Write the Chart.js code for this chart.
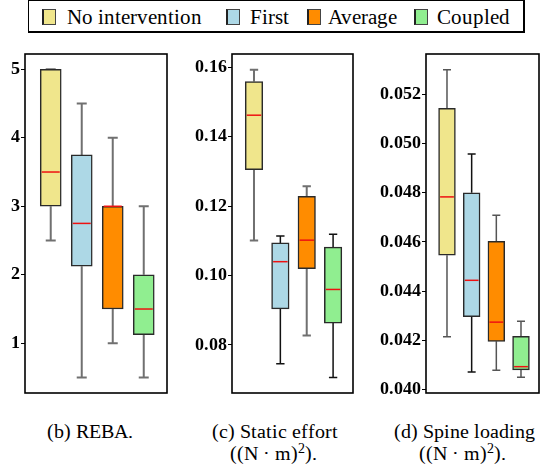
<!DOCTYPE html>
<html><head><meta charset="utf-8">
<script src="https://cdn.jsdelivr.net/npm/chart.js@4.4.0/dist/chart.umd.min.js"></script>
<style>
@font-face{font-family:"SerifX";font-weight:400;src:local("Liberation Serif"),local("LiberationSerif"),local("Times New Roman"),local("DejaVu Serif"),local("DejaVuSerif"),local("Noto Serif"),local("NotoSerif-Regular");}
@font-face{font-family:"SerifX";font-weight:700;src:local("Liberation Serif Bold"),local("LiberationSerif-Bold"),local("Times New Roman Bold"),local("DejaVu Serif Bold"),local("DejaVuSerif-Bold"),local("Noto Serif Bold"),local("NotoSerif-Bold");}
body{margin:0;width:545px;height:472px;background:#fff;position:relative;overflow:hidden;font-family:"SerifX","Liberation Serif","Times New Roman","DejaVu Serif",serif;color:#000;}
.cv{position:absolute;}
#legend{position:absolute;left:28px;top:0px;width:497px;height:33px;border:1.5px solid #000;border-right-width:2px;border-bottom-width:2px;box-sizing:border-box;}
.sw{position:absolute;top:9px;width:14px;height:16px;box-sizing:border-box;border:1px solid #444;border-left:2px solid #222;}
.lt{position:absolute;top:5px;font-size:21px;line-height:24px;white-space:nowrap;}
.cap{position:absolute;font-size:20px;line-height:22px;white-space:nowrap;text-align:center;width:200px;}
sup{font-size:14px;line-height:0;vertical-align:7px;}
</style></head>
<body>
<div id="legend"></div>
<canvas id="c1" class="cv"></canvas>
<canvas id="c2" class="cv"></canvas>
<canvas id="c3" class="cv"></canvas>
<div class="cap" style="left:-10px;top:420px;">(b) REBA.</div>
<div class="cap" style="left:175px;top:420px;">(c) Static effort</div>
<div class="cap" style="left:173px;top:442px;">((N · m)<sup>2</sup>).</div>
<div class="cap" style="left:364px;top:420px;">(d) Spine loading</div>
<div class="cap" style="left:362px;top:442px;">((N · m)<sup>2</sup>).</div>
<script>
// ---- data ----
const categories = ["No intervention", "First", "Average", "Coupled"];

const rebaLow    = [2.5, 0.5, 1.0, 0.5];
const rebaQ1     = [3.0, 2.125, 1.5, 1.125];
const rebaMedian = [3.5, 2.75, 3.0, 1.5];
const rebaQ3     = [5.0, 3.75, 3.0, 2.0];
const rebaHigh   = [5.0, 4.5, 4.0, 3.0];
const rebaTicks  = [1, 2, 3, 4, 5];
const rebaTickLabels = ["1", "2", "3", "4", "5"];

const staticLow    = [0.1101, 0.0746, 0.0827, 0.0706];
const staticQ1     = [0.1305, 0.0904, 0.1020, 0.0863];
const staticMedian = [0.1462, 0.1040, 0.1102, 0.0960];
const staticQ3     = [0.1559, 0.1094, 0.1228, 0.1082];
const staticHigh   = [0.1593, 0.1114, 0.1257, 0.1119];
const staticTicks  = [0.08, 0.10, 0.12, 0.14, 0.16];
const staticTickLabels = ["0.08", "0.10", "0.12", "0.14", "0.16"];

const spineLow    = [0.04215, 0.04071, 0.04078, 0.04050];
const spineQ1     = [0.04546, 0.04296, 0.04196, 0.04080];
const spineMedian = [0.04783, 0.04444, 0.04274, 0.04093];
const spineQ3     = [0.05143, 0.04800, 0.04602, 0.04216];
const spineHigh   = [0.05300, 0.04957, 0.04708, 0.04278];
const spineTicks  = [0.040, 0.042, 0.044, 0.046, 0.048, 0.050, 0.052];
const spineTickLabels = ["0.040", "0.042", "0.044", "0.046", "0.048", "0.050", "0.052"];

// ---- styles ----
const boxColors = ["#F0E68C", "#ADD8E6", "#FF8C00", "#90EE90"];
const legendPos = [[42, 67], [226, 250], [307, 328], [414, 437]];
const serifStack = '"SerifX", "Liberation Serif", "Times New Roman", "DejaVu Serif", serif';

// legend (HTML)
const body = document.body;
categories.forEach((c, i) => {
  const s = document.createElement('div');
  s.className = 'sw'; s.style.left = legendPos[i][0] + 'px'; s.style.background = boxColors[i];
  body.appendChild(s);
  const t = document.createElement('div');
  t.className = 'lt'; t.style.left = legendPos[i][1] + 'px'; t.textContent = c;
  body.appendChild(t);
});

const panels = [
  {id: 'c1', frameL: 25, frameR: 167, axisW: 25, yMin: 0.274, yMax: 5.223, xMin: 0.17, xMax: 4.75, bar: 21,
   low: rebaLow, q1: rebaQ1, med: rebaMedian, q3: rebaQ3, high: rebaHigh, ticks: rebaTicks, labels: rebaTickLabels,
   wc: ['#707070', '#707070', '#707070', '#707070'], ww: [2, 2, 2, 2]},
  {id: 'c2', frameL: 232, frameR: 353, axisW: 52, yMin: 0.06617, yMax: 0.16383, xMin: 0.166, xMax: 4.755, bar: 17.5,
   low: staticLow, q1: staticQ1, med: staticMedian, q3: staticQ3, high: staticHigh, ticks: staticTicks, labels: staticTickLabels,
   wc: ['#707070', '#111', '#707070', '#111'], ww: [2, 1.5, 2, 1.5]},
  {id: 'c3', frameL: 426, frameR: 539, axisW: 52, yMin: 0.03986, yMax: 0.053638, xMin: 0.149, xMax: 4.73, bar: 16.8,
   low: spineLow, q1: spineQ1, med: spineMedian, q3: spineQ3, high: spineHigh, ticks: spineTicks, labels: spineTickLabels,
   wc: ['#555', '#111', '#555', '#555'], ww: [1.5, 1.5, 1.5, 1.5]}
];

const padT = 14, padB = 14, padR = 5, frameT = 54, frameB = 393;

function drawPanel(p) {
  const cv = document.getElementById(p.id);
  const left = p.frameL - p.axisW;
  const w = p.frameR + padR - left;
  const top = frameT - padT;
  const h = frameB + padB - top;
  cv.style.left = left + 'px'; cv.style.top = top + 'px';
  cv.width = w; cv.height = h; cv.style.width = w + 'px'; cv.style.height = h + 'px';

  const boxPlugin = {
    id: 'boxparts',
    beforeDatasetsDraw(chart) {
      const {ctx, scales: {x, y}} = chart;
      ctx.save();
      for (let i = 0; i < categories.length; i++) {
        const cx = x.getPixelForValue(i + 1);
        ctx.strokeStyle = p.wc[i]; ctx.lineWidth = p.ww[i];
        const yl = y.getPixelForValue(p.low[i]), y1 = y.getPixelForValue(p.q1[i]);
        const y3 = y.getPixelForValue(p.q3[i]), yh = y.getPixelForValue(p.high[i]);
        const cap = p.bar / 4.2;
        ctx.beginPath();
        ctx.moveTo(cx, yl); ctx.lineTo(cx, y1);
        ctx.moveTo(cx, y3); ctx.lineTo(cx, yh);
        ctx.moveTo(cx - cap, yl); ctx.lineTo(cx + cap, yl);
        ctx.moveTo(cx - cap, yh); ctx.lineTo(cx + cap, yh);
        ctx.stroke();
      }
      ctx.restore();
    },
    afterDatasetsDraw(chart) {
      const {ctx, scales: {x, y}, chartArea: a} = chart;
      ctx.save();
      ctx.strokeStyle = '#ee1111'; ctx.lineWidth = 1.5;
      for (let i = 0; i < categories.length; i++) {
        const cx = x.getPixelForValue(i + 1);
        const ym = y.getPixelForValue(p.med[i]);
        ctx.beginPath();
        ctx.moveTo(cx - p.bar / 2 + 1.5, ym); ctx.lineTo(cx + p.bar / 2 - 1.5, ym);
        ctx.stroke();
      }
      ctx.strokeStyle = '#000'; ctx.lineWidth = 1.6;
      ctx.strokeRect(a.left, a.top, a.right - a.left, a.bottom - a.top);
      ctx.restore();
    }
  };

  new Chart(cv, {
    type: 'bar',
    data: {
      datasets: [{
        data: categories.map((c, i) => ({x: i + 1, y: [p.q1[i], p.q3[i]]})),
        backgroundColor: boxColors,
        borderColor: '#2a2a2a',
        borderWidth: 1.5,
        borderSkipped: false,
        grouped: false,
        barThickness: p.bar,
        maxBarThickness: p.bar
      }]
    },
    options: {
      responsive: false, animation: false, devicePixelRatio: 1,
      layout: {padding: {top: padT, bottom: padB, right: padR, left: 0}},
      plugins: {legend: {display: false}, tooltip: {enabled: false}},
      scales: {
        x: {type: 'linear', display: false, offset: false, grid: {offset: false}, min: p.xMin, max: p.xMax},
        y: {
          min: p.yMin, max: p.yMax,
          afterFit(s) { s.width = p.axisW; },
          afterBuildTicks(s) { s.ticks = p.ticks.map(v => ({value: v})); },
          border: {display: false},
          grid: {drawOnChartArea: false, drawTicks: true, tickLength: 4, color: '#000', lineWidth: 1},
          ticks: {
            padding: 1, color: '#000',
            font: {family: serifStack, size: 18, weight: 'bold'},
            callback(v) { const k = p.ticks.findIndex(t => Math.abs(t - v) < 1e-9); return k >= 0 ? p.labels[k] : ''; }
          }
        }
      }
    },
    plugins: [boxPlugin]
  });
}

const fontLoads = [document.fonts.load('18px SerifX'), document.fonts.load('bold 18px SerifX')];
let drawn = false;
function go() { if (drawn) return; drawn = true; panels.forEach(drawPanel); }
Promise.all(fontLoads).then(go, go);
setTimeout(go, 300);
</script>
</body></html>
